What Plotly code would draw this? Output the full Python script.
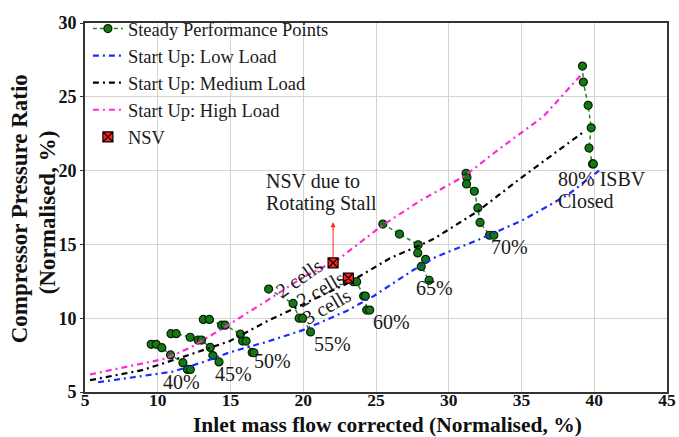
import plotly.graph_objects as go

# Steady performance points per speed line
speed40_x = [9.55, 9.89, 10.28, 10.88, 11.73, 12.04, 12.24]
speed40_y = [8.23, 8.23, 8.0, 7.51, 6.99, 6.53, 6.53]
speed45_x = [10.91, 11.27, 12.23, 12.77, 13.01, 13.61, 13.79, 14.21]
speed45_y = [8.95, 8.95, 8.71, 8.52, 8.52, 8.02, 7.47, 7.04]
speed50_x = [13.13, 13.55, 14.39, 14.63, 15.68, 15.83, 16.07, 16.49, 16.61]
speed50_y = [9.92, 9.92, 9.53, 9.53, 8.92, 8.45, 8.45, 7.68, 7.66]
speed55_x = [17.62, 19.3, 19.72, 19.96, 20.5]
speed55_y = [11.97, 11.0, 10.0, 10.0, 9.07]
speed60_x = [23.1, 23.45, 23.67, 24.15, 24.27, 24.36, 24.57]
speed60_y = [12.72, 12.47, 12.47, 11.5, 11.5, 10.55, 10.55]
speed65_x = [25.47, 26.61, 27.9, 27.87, 28.41, 28.11, 28.65]
speed65_y = [16.38, 15.7, 14.97, 14.42, 13.99, 13.51, 12.57]
speed70_x = [31.19, 31.25, 31.22, 31.76, 32.0, 32.15, 32.8, 33.1]
speed70_y = [19.82, 19.53, 19.1, 18.6, 17.47, 16.49, 15.62, 15.62]
speed80_x = [39.19, 39.25, 39.58, 39.79, 39.64, 39.88, 39.94]
speed80_y = [27.08, 26.0, 24.42, 22.9, 21.53, 20.45, 20.45]

# Start-up lines
low_x = [5.9, 8.0, 11.03, 13.13, 14.93, 17.5, 20.02, 23.02, 24.82, 27.51, 29.01, 32.0, 35.0, 36.8, 38.3, 40.33]
low_y = [5.66, 5.95, 6.38, 7.03, 7.68, 8.4, 9.21, 10.51, 11.49, 13.23, 14.1, 15.3, 16.6, 17.58, 18.45, 20.0]
med_x = [5.35, 8.93, 11.5, 14.93, 17.62, 20.02, 23.02, 24.52, 26.01, 27.81, 29.01, 32.0, 35.0, 37.4, 39.35]
med_y = [5.8, 6.48, 7.3, 8.44, 9.85, 10.94, 12.35, 13.22, 14.09, 14.85, 15.4, 17.25, 19.53, 21.27, 22.68]
high_x = [5.35, 10.43, 12.23, 14.63, 17.62, 20.02, 22.4, 25.4, 28.1, 31.1, 33.5, 36.5, 39.2]
high_y = [6.19, 7.24, 8.0, 9.41, 11.26, 12.79, 13.98, 16.26, 18.0, 19.64, 21.49, 23.66, 26.6]

# NSV points
nsv_x = [22.05, 23.1]
nsv_y = [13.75, 12.72]

# Speed labels
speed_labels = ["40%", "45%", "50%", "55%", "60%", "65%", "70%"]
speed_label_x = [10.2, 13.8, 16.5, 20.6, 24.65, 27.6, 32.75]
speed_label_y = [5.7, 6.25, 7.1, 8.28, 9.72, 12.07, 14.81]

FONT = "Liberation Serif"
TXT = dict(family=FONT, size=20, color="#1a1a1a")

steady_x, steady_y = [], []
for xs, ys in [(speed40_x, speed40_y), (speed45_x, speed45_y), (speed50_x, speed50_y),
               (speed55_x, speed55_y), (speed60_x, speed60_y), (speed65_x, speed65_y),
               (speed70_x, speed70_y), (speed80_x, speed80_y)]:
    steady_x += xs + [None]
    steady_y += ys + [None]

dashdot = "6px,4px,2px,4px"
fig = go.Figure()
fig.add_trace(go.Scatter(x=steady_x, y=steady_y, mode="lines+markers", name="Steady Performance Points",
                         line=dict(color="#228b22", width=1.5, dash="4px,3px"),
                         marker=dict(color="#137a13", size=8, line=dict(color="#0a1f0a", width=1.2)),
                         connectgaps=False))
fig.add_trace(go.Scatter(x=low_x, y=low_y, mode="lines", name="Start Up: Low Load",
                         line=dict(color="#1a2cff", width=2.2, dash=dashdot)))
fig.add_trace(go.Scatter(x=med_x, y=med_y, mode="lines", name="Start Up: Medium Load",
                         line=dict(color="#000000", width=2.2, dash=dashdot)))
fig.add_trace(go.Scatter(x=high_x, y=high_y, mode="lines", name="Start Up: High Load",
                         line=dict(color="#ff2ad4", width=2.2, dash=dashdot)))
fig.add_trace(go.Scatter(x=nsv_x, y=nsv_y, mode="markers", name="NSV",
                         marker=dict(symbol="square-x", color="#ff2020", size=10,
                                     line=dict(color="#000000", width=1.2))))

ann = []
for t, x, y in zip(speed_labels, speed_label_x, speed_label_y):
    ann.append(dict(x=x, y=y, text=t, showarrow=False, xanchor="left", yanchor="middle", font=TXT))
ann += [
    dict(x=37.4, y=19.4, text="80% ISBV", showarrow=False, xanchor="left", yanchor="middle", font=TXT),
    dict(x=37.4, y=17.95, text="Closed", showarrow=False, xanchor="left", yanchor="middle", font=TXT),
    dict(x=17.3, y=19.28, text="NSV due to", showarrow=False, xanchor="left", yanchor="middle", font=TXT),
    dict(x=17.3, y=17.78, text="Rotating Stall", showarrow=False, xanchor="left", yanchor="middle", font=TXT),
    dict(x=22.05, y=16.5, ax=22.05, ay=14.0, axref="x", ayref="y", xref="x", yref="y", text="",
         showarrow=True, arrowhead=2, arrowsize=1, arrowwidth=1, arrowcolor="#ff2020"),
    dict(x=19.71, y=12.75, text="2 cells", showarrow=False, textangle=-35, font=TXT),
    dict(x=21.19, y=11.95, text="2 cells", showarrow=False, textangle=-30, font=TXT),
    dict(x=21.66, y=10.8, text="3 cells", showarrow=False, textangle=-30, font=TXT),
    # axis titles
    dict(xref="paper", yref="paper", x=0.519, y=-0.089, text="<b>Inlet mass flow corrected (Normalised, %)</b>",
         showarrow=False, xanchor="center", yanchor="middle",
         font=dict(family=FONT, size=21.5, color="#111")),
    dict(xref="paper", yref="paper", x=-0.1122, y=0.497, text="<b>Compressor Pressure Ratio</b>",
         showarrow=False, xanchor="center", yanchor="middle", textangle=-90,
         font=dict(family=FONT, size=23, color="#111")),
    dict(xref="paper", yref="paper", x=-0.0654, y=0.487, text="<b>(Normalised, %)</b>",
         showarrow=False, xanchor="center", yanchor="middle", textangle=-90,
         font=dict(family=FONT, size=23, color="#111")),
]

axis_common = dict(showgrid=True, gridcolor="#d4d4d4", gridwidth=1, showline=True, mirror=True,
                   linecolor="#333333", linewidth=1.8, tickcolor="#333333",
                   zeroline=False, automargin=False)

fig.update_layout(
    width=679, height=437, margin=dict(l=85, r=12, t=10, b=45),
    paper_bgcolor="white", plot_bgcolor="white",
    xaxis=dict(range=[5, 45], dtick=5, tick0=5, ticks="", ticklabelstandoff=-9,
               tickfont=dict(family=FONT, size=17.5, color="#111", weight="bold"), **axis_common),
    yaxis=dict(range=[5, 30], dtick=5, tick0=5, ticks="outside", ticklen=3,
               tickfont=dict(family=FONT, size=18, color="#111", weight="bold"), **axis_common),
    legend=dict(x=0.005, y=1.035, xanchor="left", yanchor="top", bgcolor="rgba(0,0,0,0)",
                font=dict(family=FONT, size=18.5, color="#1a1a1a"), tracegroupgap=0, itemwidth=30),
    annotations=ann, showlegend=True,
)

fig.write_html("out.html")
